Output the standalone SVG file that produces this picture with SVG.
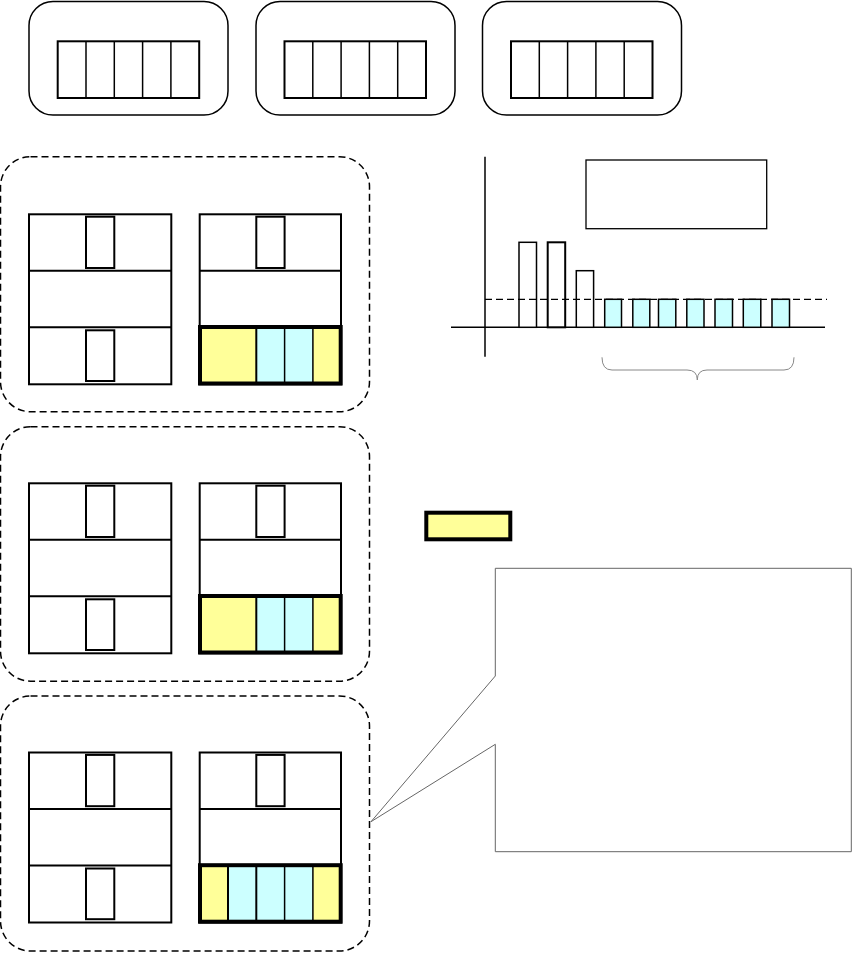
<svg xmlns="http://www.w3.org/2000/svg" xmlns:xlink="http://www.w3.org/1999/xlink" width="852" height="953" viewBox="0 0 852 953">
<style>
.box{fill:#fff;stroke:#000;stroke-width:1.5}
.cell{fill:none;stroke:#000;stroke-width:2}
.thin{stroke:#000;stroke-width:1.5;fill:none}
.panel{fill:none;stroke:#000;stroke-width:1.5;stroke-dasharray:7 4}
.st{fill:#fff;stroke:#000;stroke-width:2}
.y{fill:#FFFF99}
.c{fill:#CCFFFF}
.bar{fill:#fff;stroke:#000;stroke-width:1.5}
.cbar{fill:#CCFFFF;stroke:#000;stroke-width:1.5}
</style>
<defs>
<g id="reg">
<rect class="cell" x="0" y="0" width="141.5" height="56.7"/>
<line class="thin" x1="28.3" y1="0" x2="28.3" y2="56.7"/>
<line class="thin" x1="56.6" y1="0" x2="56.6" y2="56.7"/>
<line class="thin" x1="84.9" y1="0" x2="84.9" y2="56.7"/>
<line class="thin" x1="113.2" y1="0" x2="113.2" y2="56.7"/>
</g>
<g id="leftS">
<rect class="st" x="29" y="0" width="142.3" height="170"/>
<line class="cell" x1="29" y1="56.5" x2="171.3" y2="56.5"/>
<line class="cell" x1="29" y1="113" x2="171.3" y2="113"/>
<rect class="st" x="86" y="2.4" width="28.3" height="51.3"/>
<rect class="st" x="86" y="116" width="28.3" height="50.7"/>
</g>
</defs>

<g id="top-boxes">
<g id="box1">
<rect class="box" x="29" y="1.5" width="199" height="113.5" rx="24"/>
<use xlink:href="#reg" x="57.7" y="41.3"/>
</g>
<g id="box2">
<rect class="box" x="256" y="1.5" width="199" height="113.5" rx="24"/>
<use xlink:href="#reg" x="284.5" y="41.3"/>
</g>
<g id="box3">
<rect class="box" x="482.5" y="1.5" width="199" height="113.5" rx="24"/>
<use xlink:href="#reg" x="511" y="41.3"/>
</g>
</g>

<g id="panel1">
<rect class="panel" x="0.5" y="156.7" width="369" height="255" rx="30"/>
<g transform="translate(0,214.3)">
<use xlink:href="#leftS"/>
<rect class="st" x="199.7" y="0" width="141.3" height="170"/>
<line class="cell" x1="199.7" y1="56.5" x2="341" y2="56.5"/>
<rect class="st" x="256.3" y="2.4" width="28.3" height="51.3"/>
<rect class="y" x="200" y="112.7" width="140.7" height="56.5"/>
<rect class="c" x="256.3" y="112.7" width="56.6" height="56.5"/>
<line class="cell" x1="256.3" y1="112.7" x2="256.3" y2="169.2"/>
<line class="thin" x1="284.6" y1="112.7" x2="284.6" y2="169.2"/>
<line class="thin" x1="312.9" y1="112.7" x2="312.9" y2="169.2"/>
<rect x="200" y="112.7" width="140.7" height="56.5" fill="none" stroke="#000" stroke-width="4"/>
</g>
</g>

<g id="panel2">
<rect class="panel" x="0.5" y="426.7" width="369" height="254.5" rx="30"/>
<g transform="translate(0,483.3)">
<use xlink:href="#leftS"/>
<rect class="st" x="199.7" y="0" width="141.3" height="170"/>
<line class="cell" x1="199.7" y1="56.5" x2="341" y2="56.5"/>
<rect class="st" x="256.3" y="2.4" width="28.3" height="51.3"/>
<rect class="y" x="200" y="112.7" width="140.7" height="56.5"/>
<rect class="c" x="256.3" y="112.7" width="56.6" height="56.5"/>
<line class="cell" x1="256.3" y1="112.7" x2="256.3" y2="169.2"/>
<line class="thin" x1="284.6" y1="112.7" x2="284.6" y2="169.2"/>
<line class="thin" x1="312.9" y1="112.7" x2="312.9" y2="169.2"/>
<rect x="200" y="112.7" width="140.7" height="56.5" fill="none" stroke="#000" stroke-width="4"/>
</g>
</g>

<g id="panel3">
<rect class="panel" x="0.5" y="696" width="369" height="255" rx="30"/>
<g transform="translate(0,752.5)">
<use xlink:href="#leftS"/>
<rect class="st" x="199.7" y="0" width="141.3" height="170"/>
<line class="cell" x1="199.7" y1="56.5" x2="341" y2="56.5"/>
<rect class="st" x="256.3" y="2.4" width="28.3" height="51.3"/>
<rect class="y" x="200" y="112.7" width="140.7" height="56.5"/>
<rect class="c" x="228" y="112.7" width="84.9" height="56.5"/>
<line class="cell" x1="228" y1="112.7" x2="228" y2="169.2"/>
<line class="cell" x1="256.3" y1="112.7" x2="256.3" y2="169.2"/>
<line class="thin" x1="284.6" y1="112.7" x2="284.6" y2="169.2"/>
<line class="thin" x1="312.9" y1="112.7" x2="312.9" y2="169.2"/>
<rect x="200" y="112.7" width="140.7" height="56.5" fill="none" stroke="#000" stroke-width="4"/>
</g>
</g>

<g id="chart">
<line class="thin" x1="485" y1="156.7" x2="485" y2="356.7"/>
<line class="thin" x1="451" y1="327.3" x2="825" y2="327.3"/>
<rect class="bar" x="519" y="242.3" width="17.5" height="85"/>
<rect class="bar" x="547.7" y="242.3" width="17.5" height="85" style="stroke-width:2"/>
<rect class="bar" x="576.3" y="270.7" width="17.3" height="56.6"/>
<rect class="cbar" x="604.7" y="299.3" width="16.8" height="28"/>
<rect class="cbar" x="632.8" y="299.3" width="17" height="28"/>
<rect class="cbar" x="658.5" y="299.3" width="17.3" height="28"/>
<rect class="cbar" x="686.8" y="299.3" width="17.2" height="28"/>
<rect class="cbar" x="715" y="299.3" width="17.5" height="28"/>
<rect class="cbar" x="743.3" y="299.3" width="17.5" height="28"/>
<rect class="cbar" x="772" y="299.3" width="17.5" height="28"/>
<line x1="485" y1="299.3" x2="827" y2="299.3" stroke="#000" stroke-width="1.3" stroke-dasharray="7 4"/>
<rect x="586" y="160" width="180.7" height="68.7" fill="#fff" stroke="#000" stroke-width="1.3"/>
<path d="M602,357.3 Q602,370 612,370 L687,370 Q697.3,370 697.3,380 Q697.3,370 707,370 L784,370 Q794,370 794,357.3" fill="none" stroke="#888" stroke-width="1"/>
</g>

<g id="legend">
<rect x="426.3" y="512.7" width="84" height="26.6" fill="#FFFF99" stroke="#000" stroke-width="4"/>
</g>

<g id="callout">
<path d="M495.3,568.3 L851.3,568.3 L851.3,851.7 L495.3,851.7 L495.3,744.3 L371,821.7 L495.3,676 Z" fill="#fff" stroke="#666" stroke-width="1"/>
</g>
</svg>
